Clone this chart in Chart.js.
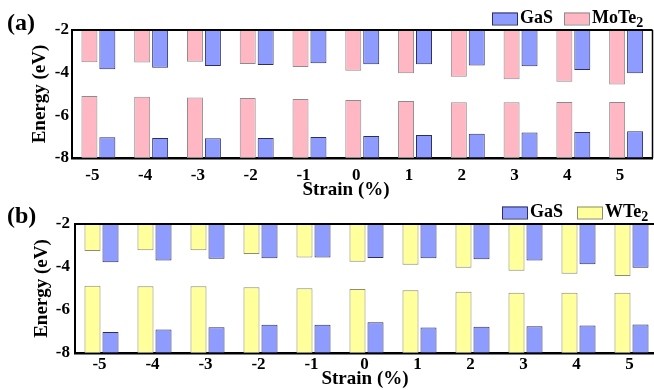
<!DOCTYPE html>
<html lang="en">
<head>
<meta charset="UTF-8">
<title>Band edges vs strain</title>
<script src="https://cdn.jsdelivr.net/npm/chart.js@4"></script>
<style>
  html, body { margin: 0; padding: 0; background: #fff; overflow: hidden; }
  #wrap { position: relative; width: 654px; height: 390px; overflow: hidden; }
  .panel { position: absolute; left: 0; }
  #panelA { top: 0; z-index: 2; }
  #panelB { top: 195px; z-index: 1; }
</style>
</head>
<body>
<div id="wrap">
  <div class="panel" id="panelA"><canvas id="chartA" width="654" height="200"></canvas></div>
  <div class="panel" id="panelB"><canvas id="chartB" width="662" height="195"></canvas></div>
</div>
<script>
  // strain values (%) on the x axis
  const strain = ['-5', '-4', '-3', '-2', '-1', '0', '1', '2', '3', '4', '5'];
  const energyTop = -2;
  const energyBottom = -8;

  // (a) GaS / MoTe2: conduction band minimum and valence band maximum (eV)
  const moTe2Cbm = [-3.51, -3.52, -3.49, -3.59, -3.73, -3.91, -4.03, -4.19, -4.31, -4.42, -4.56];
  const moTe2Vbm = [-5.09, -5.13, -5.16, -5.19, -5.23, -5.28, -5.33, -5.39, -5.39, -5.38, -5.38];
  const gasCbmA  = [-3.84, -3.77, -3.69, -3.64, -3.56, -3.61, -3.61, -3.66, -3.70, -3.88, -4.03];
  const gasVbmA  = [-7.03, -7.06, -7.08, -7.06, -7.02, -6.97, -6.92, -6.86, -6.81, -6.78, -6.75];

  // (b) GaS / WTe2
  const wTe2Cbm = [-3.25, -3.22, -3.22, -3.40, -3.56, -3.75, -3.90, -4.04, -4.17, -4.31, -4.42];
  const wTe2Vbm = [-4.87, -4.89, -4.90, -4.94, -4.99, -5.02, -5.08, -5.15, -5.20, -5.20, -5.20];
  const gasCbmB = [-3.78, -3.70, -3.62, -3.59, -3.56, -3.58, -3.59, -3.64, -3.70, -3.87, -4.04];
  const gasVbmB = [-7.02, -6.91, -6.80, -6.69, -6.69, -6.57, -6.81, -6.78, -6.75, -6.72, -6.67];

  const FONT = '"Liberation Serif", "Times New Roman", serif';
  Chart.defaults.font.family = FONT;
  Chart.defaults.font.weight = 'bold';
  Chart.defaults.color = '#000';

  const PINK = { bg: '#ffb7c3', border: '#8c8c8c' };
  const BLUE = { bg: '#8e9bff', border: '#2e2e5e' };
  const YELLOW = { bg: '#ffff9c', border: '#8c8c70' };

  // bars hang from the top edge or rise from the bottom edge of the frame
  const fromTop = vals => vals.map(v => [energyTop, v]);
  const fromBottom = vals => vals.map(v => [energyBottom, v]);

  function barSet(label, data, col, stack) {
    return {
      label, data, stack,
      backgroundColor: col.bg,
      borderColor: col.border,
      borderWidth: 1,
      borderSkipped: false,
      categoryPercentage: 0.68,
      barPercentage: 0.89
    };
  }

  // frame, panel tag, axis titles and a legend with subscripts
  const panelDecor = {
    id: 'panelDecor',
    afterDraw(chart, args, o) {
      const { ctx, chartArea: a } = chart;
      ctx.save();
      ctx.strokeStyle = '#000';
      ctx.lineWidth = 2;
      ctx.beginPath();
      ctx.moveTo(a.left, a.top);
      ctx.lineTo(a.right, a.top);
      ctx.stroke();
      if (o.rightBorder) {
        ctx.lineWidth = 1.5;
        ctx.beginPath();
        ctx.moveTo(a.right, a.top);
        ctx.lineTo(a.right, a.bottom);
        ctx.stroke();
      }

      ctx.fillStyle = '#000';
      ctx.textBaseline = 'middle';
      ctx.textAlign = 'left';
      ctx.font = 'bold 24px ' + FONT;
      ctx.fillText(o.tag, 7, o.tagY);

      ctx.textAlign = 'center';
      ctx.font = 'bold 19px ' + FONT;
      ctx.fillText('Strain (%)', o.xTitleX, o.xTitleY);

      ctx.save();
      ctx.translate(o.yTitleX, (a.top + a.bottom) / 2);
      ctx.rotate(-Math.PI / 2);
      ctx.fillText('Energy (eV)', 0, 0);
      ctx.restore();

      ctx.textAlign = 'left';
      o.legend.forEach(item => {
        const ds = chart.data.datasets[item.dataset];
        ctx.fillStyle = ds.backgroundColor;
        ctx.strokeStyle = ds.borderColor;
        ctx.lineWidth = 1;
        ctx.fillRect(item.x, o.legendY, 25, 12);
        ctx.strokeRect(item.x + 0.5, o.legendY + 0.5, 25, 12);
        ctx.fillStyle = '#000';
        ctx.font = 'bold 18px ' + FONT;
        const tx = item.x + 28;
        const ty = o.legendY + 6;
        ctx.fillText(item.text, tx, ty);
        if (item.sub) {
          const w = ctx.measureText(item.text).width;
          ctx.font = 'bold 14px ' + FONT;
          ctx.fillText(item.sub, tx + w, ty + 5);
        }
      });
      ctx.restore();
    }
  };

  function makePanel(id, tmdName, tmdCol, tmdCbm, tmdVbm, gasCbm, gasVbm, geo, decor) {
    return new Chart(document.getElementById(id), {
      type: 'bar',
      data: {
        labels: strain,
        datasets: [
          barSet(tmdName + ' CBM', fromTop(tmdCbm), tmdCol, 'tmd'),
          barSet(tmdName + ' VBM', fromBottom(tmdVbm), tmdCol, 'tmd'),
          barSet('GaS CBM', fromTop(gasCbm), BLUE, 'gas'),
          barSet('GaS VBM', fromBottom(gasVbm), BLUE, 'gas')
        ]
      },
      options: {
        responsive: false,
        animation: false,
        layout: { padding: { top: geo.top, right: geo.right, left: 0, bottom: geo.bottom } },
        plugins: {
          legend: { display: false },
          tooltip: { enabled: false },
          panelDecor: decor
        },
        scales: {
          x: {
            offset: true,
            grid: { display: false, drawTicks: false },
            border: { display: true, color: '#000', width: 2.5 },
            ticks: {
              font: { size: 17, weight: 'bold' },
              padding: geo.xPad,
              labelOffset: geo.xShift,
              maxRotation: 0,
              autoSkip: false
            },
            afterFit: s => { s.height = geo.xHeight; }
          },
          y: {
            stacked: false,
            min: energyBottom,
            max: energyTop,
            grid: { display: false, drawTicks: false },
            border: { display: true, color: '#000', width: 2 },
            ticks: { stepSize: 2, font: { size: 17, weight: 'bold' }, padding: geo.yPad },
            afterFit: s => { s.width = geo.yWidth; }
          }
        }
      },
      plugins: [panelDecor]
    });
  }

  function drawAll() {
    makePanel('chartA', 'MoTe2', PINK, moTe2Cbm, moTe2Vbm, gasCbmA, gasVbmA,
      { top: 30, right: 1.5, bottom: 5, xHeight: 37, yWidth: 72, yPad: 3, xPad: 7, xShift: -6 },
      {
        tag: '(a)', tagY: 24, rightBorder: true,
        xTitleX: 346, xTitleY: 190.5, yTitleX: 40,
        legendY: 12.5,
        legend: [
          { dataset: 2, x: 492, text: 'GaS' },
          { dataset: 0, x: 564, text: 'MoTe', sub: '2' }
        ]
      });

    makePanel('chartB', 'WTe2', YELLOW, wTe2Cbm, wTe2Vbm, gasCbmB, gasVbmB,
      { top: 29, right: 4, bottom: 0, xHeight: 37, yWidth: 75, yPad: 5, xPad: 1, xShift: -2 },
      {
        tag: '(b)', tagY: 22, rightBorder: false,
        xTitleX: 365, xTitleY: 184, yTitleX: 42,
        legendY: 11.5,
        legend: [
          { dataset: 2, x: 502, text: 'GaS' },
          { dataset: 0, x: 577, text: 'WTe', sub: '2' }
        ]
      });
  }

  // make sure the serif face is ready before the canvases are painted
  Promise.all([
    document.fonts.load('bold 17px "Liberation Serif"'),
    document.fonts.load('bold 24px "Liberation Serif"')
  ]).then(drawAll, drawAll);
</script>
</body>
</html>
